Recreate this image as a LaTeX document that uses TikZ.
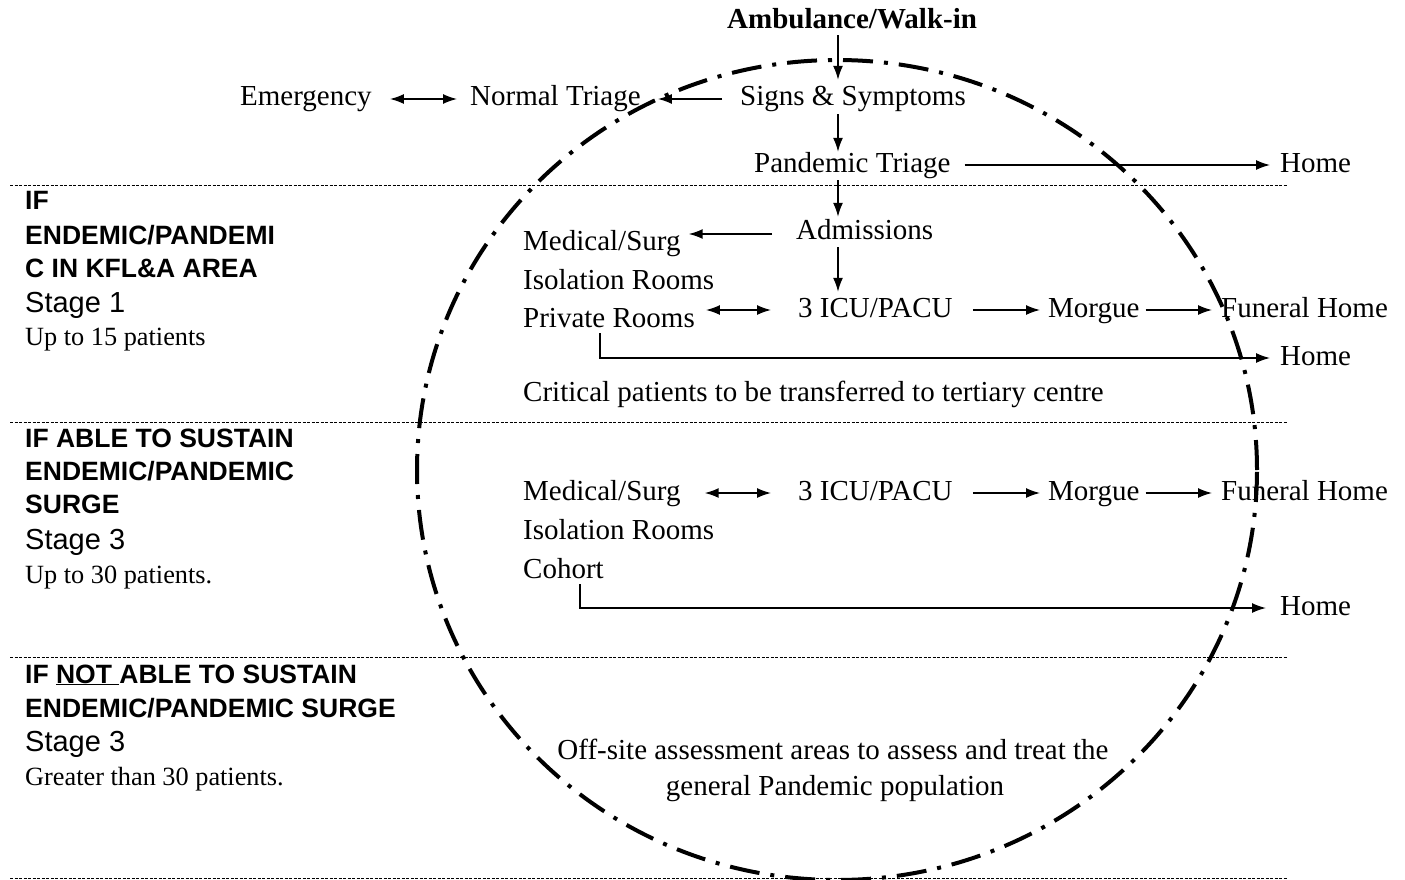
\documentclass[tikz,border=0pt]{standalone}
\usepackage{fontspec}
\setmainfont{Liberation Serif}
\newfontfamily\arialf{Liberation Sans}
\usetikzlibrary{arrows.meta}
\begin{document}
\begin{tikzpicture}[x=1pt,y=-1pt,
  txt/.style={inner sep=0pt,anchor=base west,text height=20pt,text depth=6pt,font=\fontsize{29}{34}\selectfont},
  ctxt/.style={inner sep=0pt,anchor=base,font=\fontsize{29}{34}\selectfont},
  lhead/.style={inner sep=0pt,anchor=base west,font=\arialf\bfseries\fontsize{26.5}{30}\selectfont},
  lstage/.style={inner sep=0pt,anchor=base west,font=\arialf\fontsize{29}{34}\selectfont},
  lsmall/.style={inner sep=0pt,anchor=base west,font=\fontsize{26.3}{30}\selectfont},
  arr/.style={-{Latex[length=14pt,width=10pt]},line width=1.5pt},
  darr/.style={{Latex[length=14pt,width=10pt]}-{Latex[length=14pt,width=10pt]},line width=1.5pt},
  sepline/.style={line width=0.8pt,dash pattern=on 3pt off 1.5pt},
  circ/.style={line width=4pt,dash pattern=on 30pt off 11pt on 4pt off 11pt}
]
\useasboundingbox (0,0) rectangle (1405,880);

% separators
\draw[sepline] (10,185) -- (1287,185);
\draw[sepline] (10,422) -- (1287,422);
\draw[sepline] (10,657) -- (1287,657);
\draw[sepline] (10,878) -- (1287,878);

% big circle
\draw[circ] (837,470) ellipse [x radius=420pt, y radius=410pt];

% left labels
\node[lhead] (l1a) at (25,209) {IF};
\node[lhead] (l1b) at (25,244) {ENDEMIC/PANDEMI};
\node[lhead] (l1c) at (25,277) {C IN KFL\&A AREA};
\node[lstage] (l1d) at (25,312) {Stage 1};
\node[lsmall] (l1e) at (25,345) {Up to 15 patients};

\node[lhead] (l2a) at (25,447) {IF ABLE TO SUSTAIN};
\node[lhead] (l2b) at (25,480) {ENDEMIC/PANDEMIC};
\node[lhead] (l2c) at (25,513) {SURGE};
\node[lstage] (l2d) at (25,549) {Stage 3};
\node[lsmall] (l2e) at (25,583) {Up to 30 patients.};

\node[lhead] (l3a) at (25,683) {IF \underline{NOT\ }ABLE TO SUSTAIN};
\node[lhead] (l3b) at (25,717) {ENDEMIC/PANDEMIC SURGE};
\node[lstage] (l3d) at (25,751) {Stage 3};
\node[lsmall] (l3e) at (25,785) {Greater than 30 patients.};

% top flow
\node[txt,font=\bfseries\fontsize{29}{34}\selectfont] (amb) at (727,29) {Ambulance/Walk-in};
\node[txt] (emerg) at (240,106) {Emergency};
\node[txt] (normal) at (470,106) {Normal Triage};
\node[txt] (signs) at (740,106) {Signs \& Symptoms};
\node[txt] (pand) at (754,172) {Pandemic Triage};
\node[txt] (home1) at (1280,172) {Home};
\node[txt] (adm) at (796,239) {Admissions};

% stage 1
\node[txt] (med1) at (523,250) {Medical/Surg};
\node[txt] (iso1) at (523,289) {Isolation Rooms};
\node[txt] (priv) at (523,327) {Private Rooms};
\node[txt] (icu1) at (798,317) {3 ICU/PACU};
\node[txt] (morg1) at (1048,317) {Morgue};
\node[txt] (fun1) at (1221,317) {Funeral Home};
\node[txt] (home2) at (1280,365) {Home};
\node[txt] (crit) at (523,401) {Critical patients to be transferred to tertiary centre};

% stage 3
\node[txt] (med2) at (523,500) {Medical/Surg};
\node[txt] (iso2) at (523,539) {Isolation Rooms};
\node[txt] (coh) at (523,578) {Cohort};
\node[txt] (icu2) at (798,500) {3 ICU/PACU};
\node[txt] (morg2) at (1048,500) {Morgue};
\node[txt] (fun2) at (1221,500) {Funeral Home};
\node[txt] (home3) at (1280,615) {Home};

% off-site
\node[ctxt] (off1) at (833,759) {Off-site assessment areas to assess and treat the};
\node[ctxt] (off2) at (835,795) {general Pandemic population};

% vertical column
\coordinate (col) at (838,0);
\draw[arr,shorten >=6pt] (amb.south -| col) -- (signs.north -| col);
\draw[arr,shorten <=2pt] (signs.south -| col) -- (pand.north -| col);
\draw[arr,shorten <=2pt,shorten >=2pt] (pand.south -| col) -- (adm.north -| col);
\draw[arr,shorten <=2pt,shorten >=5pt] (adm.south -| col) -- (icu1.north -| col);

% horizontal arrows
\draw[darr,shorten <=18pt,shorten >=13pt] (emerg.east) -- (normal.west);
\draw[arr,shorten <=18pt,shorten >=17pt] (signs.west) -- (normal.east);
\draw[arr,shorten <=14pt,shorten >=10pt] (pand.east) -- (home1.west);
\draw[arr,shorten <=24pt,shorten >=8pt] ([yshift=-2pt]adm.west) -- ([yshift=-2pt]adm.west -| med1.east);
\draw[darr,shorten <=11pt,shorten >=27pt] (icu1.west -| priv.east) -- (icu1.west);
\draw[arr,shorten <=20pt,shorten >=8pt] (icu1.east) -- (morg1.west);
\draw[arr,shorten <=6pt,shorten >=9pt] (morg1.east) -- (fun1.west);
\draw[arr,shorten >=10pt] ([xshift=77pt]priv.south west) |- (home2.west);

\draw[darr,shorten <=24pt,shorten >=27pt] (med2.east) -- (icu2.west);
\draw[arr,shorten <=20pt,shorten >=8pt] (icu2.east) -- (morg2.west);
\draw[arr,shorten <=6pt,shorten >=9pt] (morg2.east) -- (fun2.west);
\draw[arr,shorten >=14pt] ([xshift=57pt]coh.south west) |- (home3.west);
\end{tikzpicture}
\end{document}
